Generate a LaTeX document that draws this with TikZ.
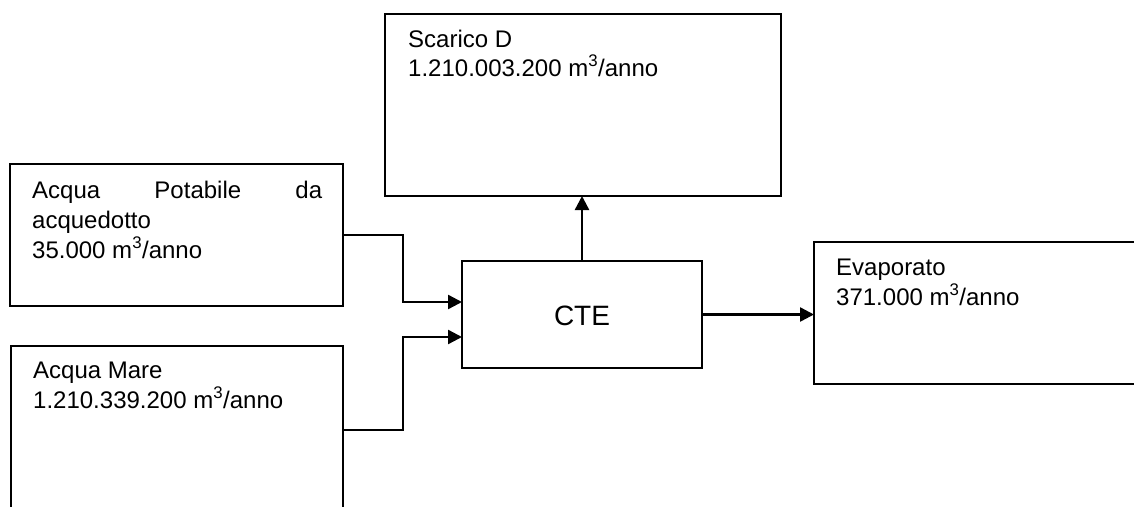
\documentclass[tikz,border=0pt]{standalone}
\usepackage{fontspec}
\setmainfont{Liberation Sans}
\usetikzlibrary{arrows.meta}
\begin{document}
\begin{tikzpicture}[x=1pt,y=-1pt,
  box/.style={draw, line width=2.4pt, rectangle, anchor=north west, inner sep=0pt, outer sep=0pt},
  txt/.style={anchor=base west, inner sep=0pt, font=\fontsize{24}{30}\selectfont},
  flow/.style={line width=2.4pt, -{Triangle[length=14pt,width=14pt]}}]
\clip (0,0) rectangle (1134,506);
\fill[white] (0,0) rectangle (1134,506);
% boxes
\node[box, minimum width=396pt, minimum height=182pt] (scarico) at (385,14) {};
\node[box, minimum width=333pt, minimum height=142pt] (pot) at (10,164) {};
\node[box, minimum width=332pt, minimum height=200pt] (mare) at (11,346) {};
\node[box, minimum width=240pt, minimum height=107pt] (cte) at (462,261) {};
\node[box, minimum width=340pt, minimum height=142pt] (evap) at (814,242) {};
% texts
\node[txt] (t1) at (408,47) {Scarico D};
\node[txt] (t2) at (408,76) {1.210.003.200 m\textsuperscript{3}/anno};
\node[txt] (t3) at (32,198) {\makebox[290pt][l]{Acqua\hfill Potabile\hfill da}};
\node[txt] (t4) at (32,228) {acquedotto};
\node[txt] (t5) at (32,258) {35.000 m\textsuperscript{3}/anno};
\node[txt] (t6) at (33,378) {Acqua Mare};
\node[txt] (t7) at (33,408) {1.210.339.200 m\textsuperscript{3}/anno};
\node[txt] (t8) at (836,275) {Evaporato};
\node[txt] (t9) at (836,305) {371.000 m\textsuperscript{3}/anno};
\node[anchor=base, inner sep=0pt, font=\fontsize{28}{32}\selectfont] (ctet) at (582,325) {CTE};
% connectors
\draw[flow] (pot.east) -- ++(60,0) |- ([yshift=12.5pt]cte.west);
\draw[flow] ([yshift=-84pt]mare.north east) -- ++(60,0) |- ([yshift=-22.5pt]cte.west);
\draw[flow] (cte.north) -- (cte.north |- scarico.south);
\draw[flow] (cte.east) -- (cte.east -| evap.west);
\end{tikzpicture}
\end{document}
